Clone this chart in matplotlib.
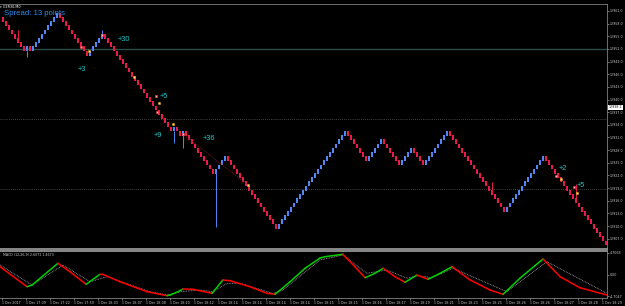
import numpy as np
import matplotlib
matplotlib.use("Agg")
import matplotlib.pyplot as plt
from matplotlib.collections import LineCollection

# ---------------- data ----------------
start_open = 12959.5          # open of first brick
brick = 1.0
run_dirs = [-1, 1, -1, 1, -1, 1, -1, 1, -1, 1, -1, 1, -1, 1, -1, 1, -1, 1, -1, 1, -1, 1, -1]
run_lens = [8, 1, 1, 9, 10, 5, 23, 1, 2, 1, 10, 4, 17, 23, 7, 5, 6, 4, 4, 8, 19, 13, 21]

wick_cols = [5, 8, 33, 57, 60, 71, 163, 191]
wick_lo = [12954.5, 12950.0, 12955.5, 12929.8, 12928.5, 12909.8, 12918.5, 12916.5]
wick_hi = [12956.5, 12951.5, 12956.5, 12932.5, 12931.5, 12922.5, 12920.5, 12920.0]

trade_cols = [26, 28.7, 33, 43.7, 51, 52, 51.3, 56.7, 60, 81.7, 184.3, 186, 190.3, 191.3]
trade_prices = [12952.4, 12951.5, 12955.3, 12945.3, 12940.8, 12939.2, 12937.0, 12934.2,
                12931.8, 12919.7, 12921.9, 12921.2, 12919.3, 12917.8]
trade_kind = ["s", "b", "s", "b", "s", "b", "s", "b", "s", "b", "s", "b", "s", "b"]

profit_text = ["+3", "+30", "+5", "+9", "+36", "+2", "+5"]
profit_cols = [25, 38.3, 52.3, 50.3, 66.7, 185.3, 191.3]
profit_prices = [12947.0, 12954.3, 12940.8, 12931.4, 12930.8, 12923.7, 12919.7]

trade_line_cols = [60, 81.7]
trade_line_prices = [12931.8, 12919.7]

level_solid = 12952.0
levels_dotted = [12935.4, 12918.8]
bid_price = 12938.2

macd_cols = [-1, 8, 9.7, 18.3, 22.3, 27.7, 32.3, 33.3, 39, 48, 54.7, 55.7, 58.3, 60, 63.3,
             69.7, 73.3, 75.7, 82.3, 88, 90.7, 95.7, 100.7, 105.7, 107.3, 113.3, 117.3,
             120.7, 124, 126.7, 130.7, 134, 138, 141.7, 145.7, 149.7, 155.7, 162.3, 166.7,
             172.3, 177.3, 180, 185.7, 192.3, 201.3]
macd_vals = [1.71, -2.67, -2.30, 2.45, 0.61, -2.15, 0.04, 0.03, -1.58, -3.77, -4.64, -4.49,
             -3.77, -3.17, -3.24, -4.12, -1.20, -1.36, -2.67, -4.12, -4.33, -1.58, 1.36,
             3.60, 3.90, 4.42, 1.71, -0.70, 0.26, 1.36, -0.48, -1.71, -0.11, -1.05, 0.26,
             1.71, -1.20, -3.39, -4.33, -0.83, 1.93, 3.39, -0.48, -2.89, -4.49]
signal_cols = [-1, 9.7, 20, 29, 34.7, 49, 55, 59, 65.7, 70, 74.7, 79, 90, 93.3, 105.7,
               113.3, 121.3, 128, 134.7, 138.3, 143, 150, 168, 181.3, 201.3]
signal_vals = [2.08, -2.30, 2.08, -1.58, -0.48, -3.77, -4.49, -3.77, -3.39, -3.77, -1.93,
               -1.93, -4.12, -3.39, 3.17, 4.27, 0.26, 0.99, -0.83, -0.26, -0.70, 1.36,
               -3.77, 2.80, -4.12]

x_tick_labels = ["1 Dec 2017", "1 Dec 17:09", "1 Dec 17:22", "1 Dec 17:59", "1 Dec 18:03",
                 "1 Dec 18:07", "1 Dec 18:08", "1 Dec 18:10", "1 Dec 18:12", "1 Dec 18:14",
                 "1 Dec 18:14", "1 Dec 18:14", "1 Dec 18:14", "1 Dec 18:15", "1 Dec 18:15",
                 "1 Dec 18:16", "1 Dec 18:17", "1 Dec 18:19", "1 Dec 18:21", "1 Dec 18:23",
                 "1 Dec 18:25", "1 Dec 18:26", "1 Dec 18:26", "1 Dec 18:27", "1 Dec 18:28",
                 "1 Dec 18:29"]
x_tick_every = 8          # bricks between time labels
macd_ticks = [4.7068, 0.0, -4.7047]
macd_tick_labels = ["4.7068", "0.00", "-4.7047"]

# ---------------- build bricks ----------------
opens, closes, dirs = [], [], []
p = start_open
for d, n in zip(run_dirs, run_lens):
    for _ in range(n):
        opens.append(p)
        p = p + d * brick
        closes.append(p)
        dirs.append(d)
opens = np.array(opens); closes = np.array(closes)
cols = np.arange(len(opens))

RED = "#ea1a4c"
BLUE = "#5087f5"
BG = "black"
TXT = "#c8c8c8"
FS = 2.35

fig = plt.figure(figsize=(6.25, 3.06), dpi=100, facecolor=BG)
W, H = 625.0, 306.0
RIGHT = 607.0
ax = fig.add_axes([0, (H - 249) / H, RIGHT / W, (249 - 4) / H], facecolor=BG)
am = fig.add_axes([0, (H - 298) / H, RIGHT / W, (298 - 251) / H], facecolor=BG)
xmax = (RIGHT - 3) / 3.0

# main panel
px_per_brick = 4.22
top_level = start_open + 1
ax.set_xlim(-1, xmax)
ax.set_ylim(top_level - (249 - 13) / px_per_brick, top_level + (13 - 4) / px_per_brick)

ax.axhline(level_solid, color="#2c4c4c", lw=1.0, zorder=1)
for lv in levels_dotted:
    ax.axhline(lv, color="#5a5a5a", lw=0.6, ls=(0, (1, 1.5)), zorder=1)

colors = [BLUE if d > 0 else RED for d in dirs]
ax.vlines(wick_cols, wick_lo, wick_hi,
          colors=[BLUE if dirs[c] > 0 else RED for c in wick_cols], lw=0.7, zorder=2)
ax.bar(cols, np.abs(closes - opens) * 1.15, bottom=np.minimum(opens, closes) - 0.075,
       width=0.72, color=colors, edgecolor="none", zorder=3)

ax.plot(trade_line_cols, trade_line_prices, color="#8a1010", lw=0.7, ls=(0, (1, 1.2)), zorder=4)
for c, pr, k in zip(trade_cols, trade_prices, trade_kind):
    if k == "s":
        ax.plot(c, pr, marker="s", ms=1.5, mfc="#ffc0c0", mec="#ff3030", mew=0.4, zorder=5)
    else:
        ax.plot(c, pr, marker="s", ms=1.4, mfc="#fff0a0", mec="#e0a000", mew=0.4, zorder=5)
for t, c, pr in zip(profit_text, profit_cols, profit_prices):
    ax.text(c, pr, t, color="#20c8c8", fontsize=5.3, family="Liberation Sans",
            ha="left", va="center", zorder=6)

ax.text(4.5 / RIGHT, 1 - 9.5 / 245, "Spread: 13 points", transform=ax.transAxes,
        color="#2b8cf0", fontsize=5.6, family="Liberation Sans", ha="left", va="center",
        zorder=7)
ax.text(0.3 / RIGHT, 1 - 0.5 / 245, "\u25be GER30,M0", transform=ax.transAxes,
        color="white", fontsize=2.4, ha="left", va="top")

yt = np.arange(start_open + 1.5, ax.get_ylim()[0], -3.0)
ax.yaxis.tick_right()
ax.set_yticks(yt)
ax.set_yticklabels(["%.1f" % v for v in yt])
ax.tick_params(axis="y", colors=TXT, labelsize=FS, length=1.2, width=0.4, pad=0.8)
ax.set_xticks([])
ax.text(1.003, bid_price, "%.1f" % bid_price, transform=ax.get_yaxis_transform(),
        fontsize=FS, color="black", ha="left", va="center",
        bbox=dict(boxstyle="square,pad=0.15", fc="white", ec="none"))
ax.spines["left"].set_visible(False)
ax.spines["top"].set_color("#808080"); ax.spines["top"].set_linewidth(0.6)
ax.spines["right"].set_color("#808080"); ax.spines["right"].set_linewidth(0.6)
ax.spines["bottom"].set_color("#a0a0a0"); ax.spines["bottom"].set_linewidth(1.2)

# MACD panel
am.set_xlim(-1, xmax)
am.set_ylim(-5.14, 5.14)
mc = np.array(macd_cols); mv = np.array(macd_vals)
segs = [[(mc[i], mv[i]), (mc[i + 1], mv[i + 1])] for i in range(len(mc) - 1)]
segc = ["#00d000" if mv[i + 1] > mv[i] else "#ff0000" for i in range(len(mc) - 1)]
am.plot(signal_cols, signal_vals, color="#a8a8a8", lw=0.6, ls=(0, (1, 1)), zorder=2)
am.add_collection(LineCollection(segs, colors=segc, linewidths=1.1, zorder=3,
                                 capstyle="round", joinstyle="round"))
am.text(3 / RIGHT, 1 - 4.5 / 47, "MACD (12,26,9) 2.6071 1.4673", transform=am.transAxes,
        color=TXT, fontsize=FS, ha="left", va="center")
am.yaxis.tick_right()
am.set_yticks(macd_ticks)
am.set_yticklabels(macd_tick_labels)
am.tick_params(axis="y", colors=TXT, labelsize=FS, length=1.2, width=0.4, pad=0.8)
xt = np.arange(len(x_tick_labels)) * x_tick_every - 0.33
am.set_xticks(xt)
am.set_xticklabels(x_tick_labels)
am.tick_params(axis="x", colors=TXT, labelsize=FS, length=1.5, width=0.4, pad=1)
for lab in am.get_xticklabels():
    lab.set_horizontalalignment("left")
am.spines["left"].set_visible(False)
am.spines["top"].set_color("#a0a0a0"); am.spines["top"].set_linewidth(1.2)
am.spines["right"].set_color("#808080"); am.spines["right"].set_linewidth(0.6)
am.spines["bottom"].set_color("#808080"); am.spines["bottom"].set_linewidth(0.6)

fig.savefig("out.png", dpi=100, facecolor=BG)
